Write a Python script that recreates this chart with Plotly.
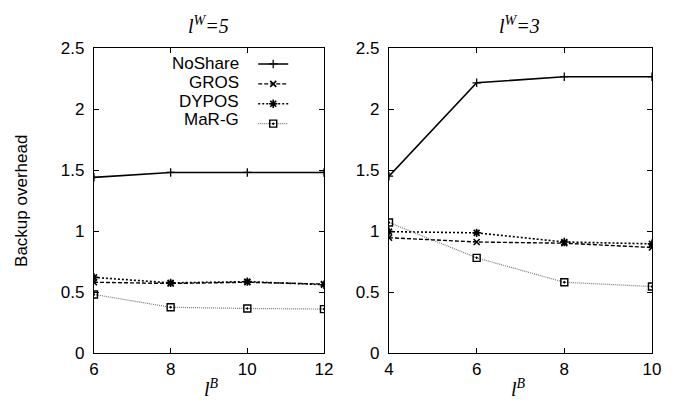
import plotly.graph_objects as go

# ---- data ----
x_left = [6, 8, 10, 12]
x_right = [4, 6, 8, 10]

noshare_left = [1.44, 1.48, 1.48, 1.48]
gros_left = [0.58, 0.57, 0.58, 0.565]
dypos_left = [0.62, 0.575, 0.585, 0.56]
marg_left = [0.48, 0.375, 0.365, 0.36]

noshare_right = [1.45, 2.215, 2.265, 2.265]
gros_right = [0.945, 0.91, 0.90, 0.865]
dypos_right = [0.995, 0.985, 0.91, 0.895]
marg_right = [1.07, 0.78, 0.58, 0.545]

series_names = ["NoShare", "GROS", "DYPOS", "MaR-G"]
y_ticks = [0, 0.5, 1, 1.5, 2, 2.5]
y_tick_labels = ["0", "0.5", "1", "1.5", "2", "2.5"]
titles = ["<i>l</i><sup><i>W</i></sup><i>=5</i>", "<i>l</i><sup><i>W</i></sup><i>=3</i>"]
x_title = "<i>l</i><sup><i>B</i></sup>"
y_title = "Backup overhead"

styles = [
    dict(line=dict(color="black", width=1.6, dash="solid"),
         marker=dict(symbol="cross-thin", size=6, color="black", line=dict(width=1.3, color="black"))),
    dict(line=dict(color="black", width=1.4, dash="4px,2px"),
         marker=dict(symbol="x-thin", size=6, color="black", line=dict(width=1.6, color="black"))),
    dict(line=dict(color="black", width=1.6, dash="2px,2px"),
         marker=dict(symbol="asterisk", size=7, color="black", line=dict(width=1.6, color="black"))),
    dict(line=dict(color="#777777", width=1.2, dash="1px,1px"),
         marker=dict(symbol="square-open-dot", size=7, color="black", line=dict(width=1.4, color="black"))),
]

fig = go.Figure()
left_sets = [noshare_left, gros_left, dypos_left, marg_left]
right_sets = [noshare_right, gros_right, dypos_right, marg_right]
for i, name in enumerate(series_names):
    fig.add_trace(go.Scatter(x=x_left, y=left_sets[i], name=name, mode="lines+markers",
                             xaxis="x", yaxis="y", showlegend=True, **styles[i]))
for i, name in enumerate(series_names):
    fig.add_trace(go.Scatter(x=x_right, y=right_sets[i], name=name, mode="lines+markers",
                             xaxis="x2", yaxis="y2", showlegend=False, **styles[i]))

font_sans = "Liberation Sans, Arial, sans-serif"
FS = 17
axis_common = dict(showline=True, linecolor="black", linewidth=1.2, mirror="ticks",
                   ticks="inside", ticklen=5, tickcolor="black", showgrid=False, zeroline=False,
                   automargin=False,
                   tickfont=dict(family=font_sans, size=FS, color="black"))

Y_DOM = [0.1481, 0.9012]
fig.update_layout(
    width=685, height=405,
    margin=dict(l=0, r=0, t=0, b=0, autoexpand=False),
    paper_bgcolor="white", plot_bgcolor="white",
    xaxis=dict(domain=[0.1255, 0.4613], range=[6, 12], tickvals=x_left, anchor="y", **axis_common),
    yaxis=dict(domain=Y_DOM, range=[0, 2.5], tickvals=y_ticks, ticktext=y_tick_labels,
               anchor="x", ticklabelstandoff=5, **axis_common),
    xaxis2=dict(domain=[0.5562, 0.9401], range=[4, 10], tickvals=x_right, anchor="y2", **axis_common),
    yaxis2=dict(domain=Y_DOM, range=[0, 2.5], tickvals=y_ticks, ticktext=y_tick_labels,
                anchor="x2", ticklabelstandoff=5, **axis_common),
    # legend: library-drawn samples; text hidden and drawn right-aligned by annotations on the left
    legend=dict(x=0.358, y=0.8988, xanchor="left", yanchor="top", bgcolor="rgba(0,0,0,0)",
                font=dict(family=font_sans, size=13, color="rgba(0,0,0,0)"), tracegroupgap=0,
                itemwidth=30),
    showlegend=True,
)

serif = "Liberation Serif, Times New Roman, serif"
def ann(text, x, y, size, family, **kw):
    d = dict(text=text, x=x, y=y, xref="paper", yref="paper", showarrow=False,
             xanchor="center", yanchor="middle", font=dict(family=family, size=size, color="black"))
    d.update(kw)
    return d

annotations = [
    ann(titles[0], 0.292, 0.958, 20, serif),
    ann(titles[1], 0.747, 0.958, 20, serif),
    ann(x_title, 0.297, 0.062, 20, serif),
    ann(x_title, 0.745, 0.062, 20, serif),
    ann(y_title, 0.0204, 0.5235, FS, font_sans, textangle=-90),
]
leg_rows_y = [0.8635, 0.8156, 0.7686, 0.7252]
for name, yy in zip(series_names, leg_rows_y):
    annotations.append(ann(name, 0.3397, yy, FS, font_sans, xanchor="right"))
fig.update_layout(annotations=annotations)

fig.write_html("out.html")
